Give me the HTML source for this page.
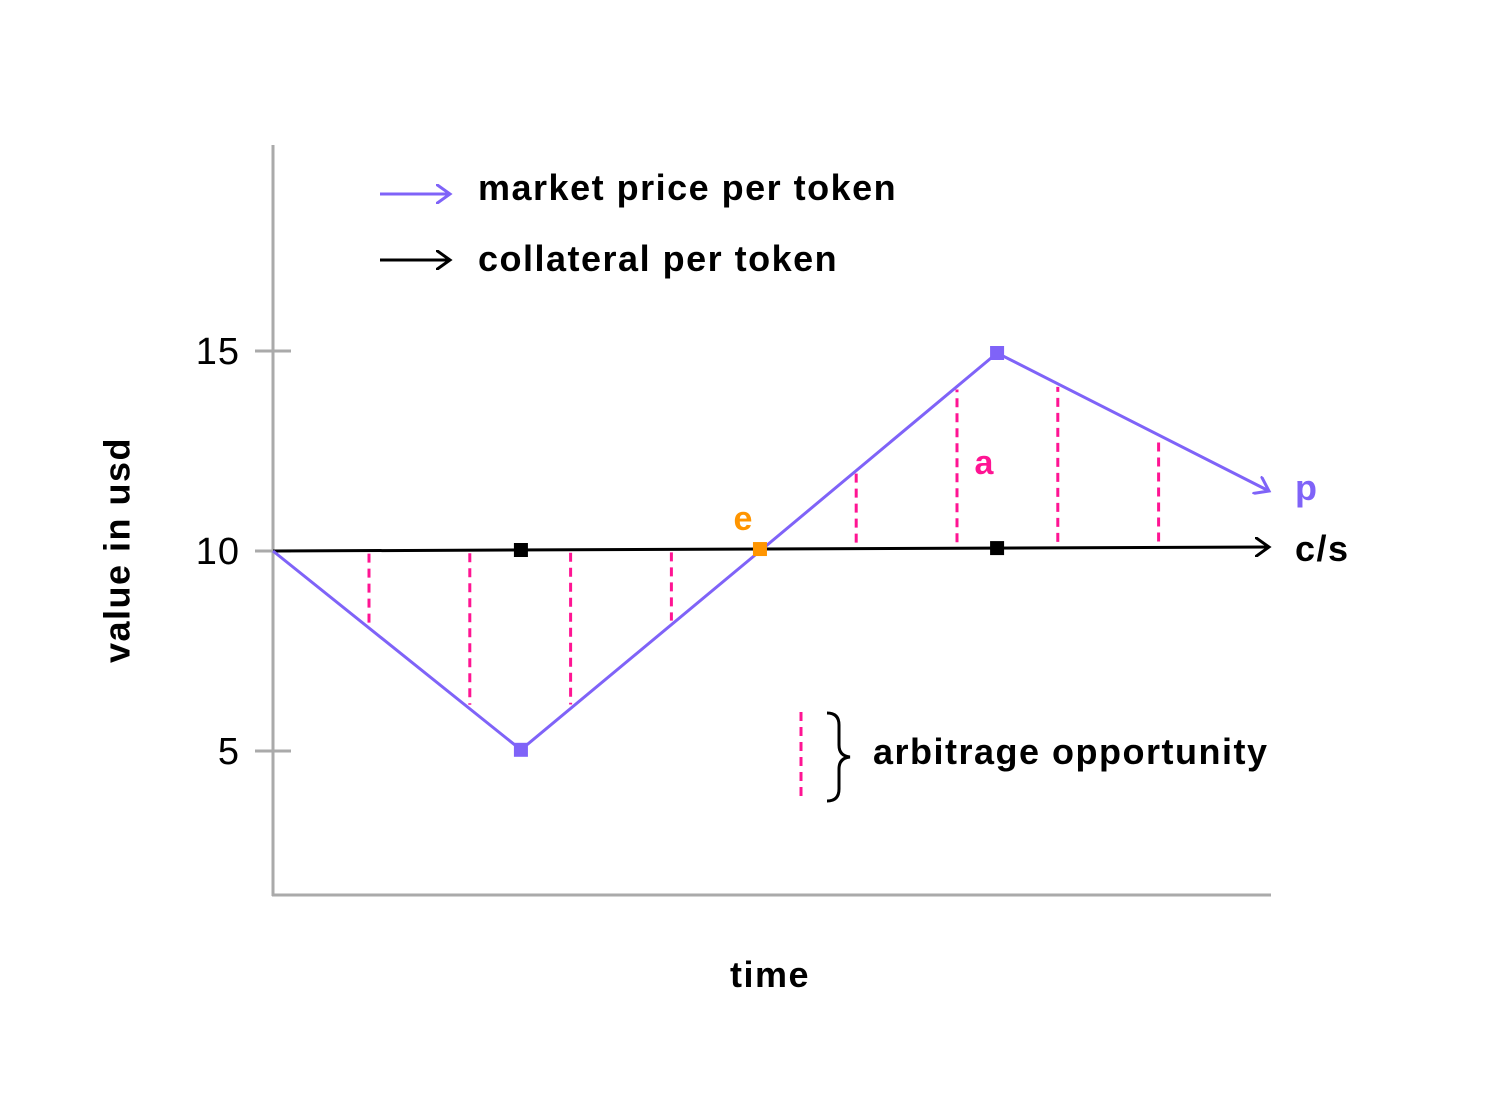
<!DOCTYPE html>
<html><head><meta charset="utf-8"><style>
html,body{margin:0;padding:0;background:#fff;}
svg{display:block;font-family:"Liberation Sans",sans-serif;}
.lbl{letter-spacing:1.5px;}
</style></head><body>
<svg id="chart" width="1500" height="1100" viewBox="0 0 1500 1100">
<defs>
<marker id="ap" markerWidth="20" markerHeight="20" refX="14" refY="10" orient="auto" markerUnits="userSpaceOnUse"><path d="M0,0 L14,10 L0,20" fill="none" stroke="#7f63f8" stroke-width="3"/></marker>
<marker id="ak" markerWidth="20" markerHeight="20" refX="14" refY="10" orient="auto" markerUnits="userSpaceOnUse"><path d="M0,0 L14,10 L0,20" fill="none" stroke="#000" stroke-width="3"/></marker>
</defs>
<g id="axes">
<line x1="273" y1="145" x2="273" y2="896" stroke="#aaa" stroke-width="3"/>
<line x1="272" y1="895" x2="1271" y2="895" stroke="#aaa" stroke-width="3"/>
</g>
<g id="ticks"></g>
<g id="marks"></g>
<text class="lbl" x="120" y="550" transform="rotate(-90 120 550)" text-anchor="middle" dominant-baseline="middle" font-size="36" font-weight="bold">value in usd</text>
<text class="lbl" x="770" y="987" text-anchor="middle" font-size="36" font-weight="bold">time</text>
<g>
<line x1="380" y1="194" x2="450" y2="194" stroke="#7f63f8" stroke-width="3" marker-end="url(#ap)"/>
<text class="lbl" x="478" y="200" font-size="36" font-weight="bold">market price per token</text>
<line x1="380" y1="260" x2="450" y2="260" stroke="#000" stroke-width="3" marker-end="url(#ak)"/>
<text class="lbl" x="478" y="271" font-size="36" font-weight="bold">collateral per token</text>
</g>
<g>
<line x1="801" y1="712" x2="801" y2="802" stroke="#ff1493" stroke-width="3" stroke-dasharray="9,6"/>
<path d="M827,713 Q839,713 839,725 L839,745 Q839,756 850,757 Q839,758 839,769 L839,789 Q839,801 827,801" fill="none" stroke="#000" stroke-width="3"/>
<text class="lbl" x="873" y="764" font-size="36" font-weight="bold">arbitrage opportunity</text>
</g>
<text x="1295" y="500" font-size="36" font-weight="bold" fill="#7f63f8">p</text>
<text class="lbl" x="1295" y="561" font-size="36" font-weight="bold">c/s</text>
<text x="743" y="530" text-anchor="middle" font-size="34" font-weight="bold" fill="#ff9500">e</text>
<text x="984" y="474" text-anchor="middle" font-size="34" font-weight="bold" fill="#ff1493">a</text>
</svg>
<script>
const yTicks=[15,10,5];
const priceTimes=[0,1.033,2.029,3.017,4.15];
const priceValues=[10,5.03,10,14.95,11.5];
const collTimes=[0,4.15];
const collValues=[10,10.1];
const markerTimes=[1.033,2.029,3.017];
const arbTimes=[0.4,0.82,1.24,1.66,2.43,2.85,3.27,3.69];
const NS="http://www.w3.org/2000/svg";
const X=t=>273+t*240;
const Y=v=>951-v*40;
function interp(ts,vs,t){for(let i=0;i<ts.length-1;i++){if(t<=ts[i+1]){const f=(t-ts[i])/(ts[i+1]-ts[i]);return vs[i]+f*(vs[i+1]-vs[i]);}}return vs[vs.length-1];}
function mk(tag,attrs,parent){const e=document.createElementNS(NS,tag);for(const k in attrs)e.setAttribute(k,attrs[k]);parent.appendChild(e);return e;}
const tg=document.getElementById('ticks');
yTicks.forEach(v=>{
 const l=mk('line',{x1:255,x2:291,y1:Y(v),y2:Y(v),stroke:'#aaa','stroke-width':3},tg);
 
 
 const t=mk('text',{x:240,y:Y(v)+13,'text-anchor':'end','font-size':38,'letter-spacing':'1px'},tg);
 t.textContent=v;
 
 
});
const mg=document.getElementById('marks');
arbTimes.forEach((t,i)=>{
 const c=interp(collTimes,collValues,t),p=interp(priceTimes,priceValues,t);
 const y1=Y(c)+(p<c?3:-6),y2=Y(p)+(p<c?-4:3);
 const l=mk('line',{x1:X(t),x2:X(t),y1:y1,y2:y2,stroke:'#ff1493','stroke-width':3,'stroke-dasharray':'9,6'},mg);
 
 
});
const cl=mk('polyline',{points:collTimes.map((t,i)=>X(t)+','+Y(collValues[i])).join(' '),fill:'none',stroke:'#000','stroke-width':3,'marker-end':'url(#ak)'},mg);


const pl=mk('polyline',{points:priceTimes.map((t,i)=>X(t)+','+Y(priceValues[i])).join(' '),fill:'none',stroke:'#7f63f8','stroke-width':3,'marker-end':'url(#ap)'},mg);


markerTimes.forEach((t,i)=>{
 const p=interp(priceTimes,priceValues,t),c=interp(collTimes,collValues,t);
 const eq=Math.abs(p-c)<0.3;
 if(!eq){
  const m=mk('rect',{x:X(t)-7,y:Y(p)-7,width:14,height:14,fill:'#7f63f8'},mg);
  
  
  const k=mk('rect',{x:X(t)-7,y:Y(c)-7,width:14,height:14,fill:'#000'},mg);
  
  
 } else {
  const o=mk('rect',{x:X(t)-7,y:Y(c)-7,width:14,height:14,fill:'#ff9500'},mg);
  
  
 }
});
</script>
</body></html>
